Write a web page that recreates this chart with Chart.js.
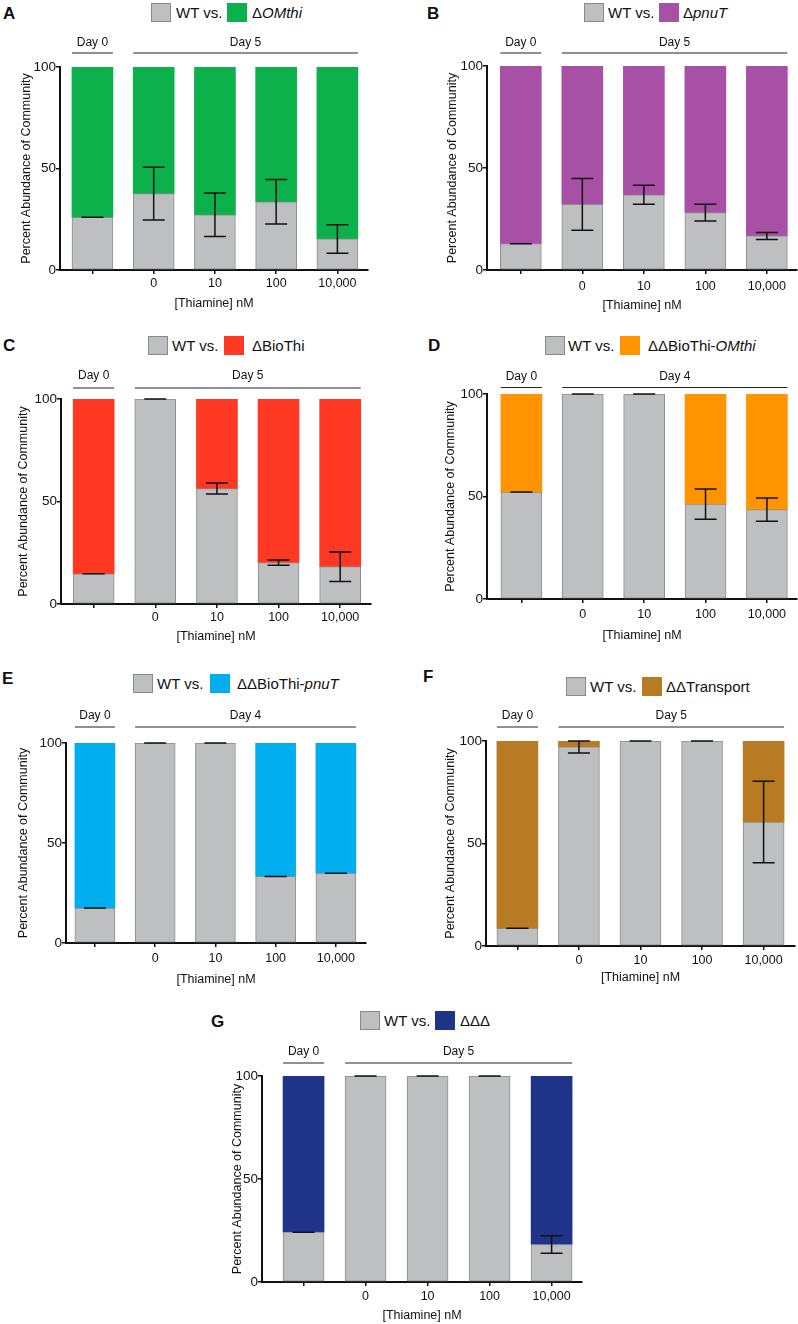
<!DOCTYPE html>
<html><head><meta charset="utf-8">
<script src="https://cdn.jsdelivr.net/npm/chart.js@4.4.1/dist/chart.umd.min.js"></script>
<style>
html,body{margin:0;padding:0;background:#fff;overflow:hidden;}
body{width:798px;height:1324px;position:relative;font-family:"Liberation Sans",Arial,Helvetica,sans-serif;color:#111;}
.letter{position:absolute;font-weight:bold;font-size:17px;line-height:17px;}
.box{position:absolute;width:18px;height:17px;border:1px solid #8a8a8a;}
.ltxt{position:absolute;font-size:15px;line-height:19px;white-space:nowrap;}
canvas{position:absolute;}
</style></head><body>

<div class="letter" style="left:3px;top:5px">A</div>
<div class="box" style="left:151px;top:3px;background:#BEBFC1"></div>
<div class="ltxt" style="left:176px;top:3px">WT vs.</div>
<div class="box" style="left:227px;top:3px;background:#0DB14B;border-color:#0DB14B"></div>
<div class="ltxt" style="left:252px;top:3px">Δ<i>OMthi</i></div>

<div class="letter" style="left:427px;top:5px">B</div>
<div class="box" style="left:584px;top:3px;background:#BEBFC1"></div>
<div class="ltxt" style="left:608px;top:3px">WT vs.</div>
<div class="box" style="left:659px;top:3px;background:#A850A5;border-color:#A850A5"></div>
<div class="ltxt" style="left:683px;top:3px">Δ<i>pnuT</i></div>

<div class="letter" style="left:3px;top:337px">C</div>
<div class="box" style="left:148px;top:336px;background:#BEBFC1"></div>
<div class="ltxt" style="left:172px;top:336px">WT vs.</div>
<div class="box" style="left:224px;top:336px;background:#FF3823;border-color:#FF3823"></div>
<div class="ltxt" style="left:252px;top:336px">ΔBioThi</div>

<div class="letter" style="left:428px;top:337px">D</div>
<div class="box" style="left:545px;top:336px;background:#BEBFC1"></div>
<div class="ltxt" style="left:568px;top:336px">WT vs.</div>
<div class="box" style="left:620px;top:336px;background:#FF9400;border-color:#FF9400"></div>
<div class="ltxt" style="left:648px;top:336px">ΔΔBioThi-<i>OMthi</i></div>

<div class="letter" style="left:2px;top:670px">E</div>
<div class="box" style="left:133px;top:674px;background:#BEBFC1"></div>
<div class="ltxt" style="left:157px;top:674px">WT vs.</div>
<div class="box" style="left:210px;top:674px;background:#00AEEF;border-color:#00AEEF"></div>
<div class="ltxt" style="left:237px;top:674px">ΔΔBioThi-<i>pnuT</i></div>

<div class="letter" style="left:423px;top:668px">F</div>
<div class="box" style="left:566px;top:677px;background:#BEBFC1"></div>
<div class="ltxt" style="left:590px;top:677px">WT vs.</div>
<div class="box" style="left:642px;top:677px;background:#B87A22;border-color:#B87A22"></div>
<div class="ltxt" style="left:666px;top:677px">ΔΔTransport</div>

<div class="letter" style="left:211px;top:1013px">G</div>
<div class="box" style="left:360px;top:1011px;background:#BEBFC1"></div>
<div class="ltxt" style="left:384px;top:1011px">WT vs.</div>
<div class="box" style="left:435px;top:1011px;background:#1F3489;border-color:#1F3489"></div>
<div class="ltxt" style="left:460px;top:1011px">ΔΔΔ</div>

<script>
// ---------- data ----------
const categories = ['', '0', '10', '100', '10,000'];
const yTicks = [0, 50, 100];
const dayGroups = [[0, 0], [1, 4]];

const wtA  = [26.0, 37.6, 27.2, 33.6, 15.3];
const mutA = [74.0, 62.4, 72.8, 66.4, 84.7];
const errA = [0, 13.0, 10.7, 11.0, 7.0];
const daysA = ['Day 0', 'Day 5'];

const wtB  = [12.9, 32.2, 36.9, 28.1, 16.7];
const mutB = [87.1, 67.8, 63.1, 71.9, 83.3];
const errB = [0, 12.7, 4.7, 4.1, 1.7];
const daysB = ['Day 0', 'Day 5'];

const wtC  = [14.7, 100, 56.3, 20.2, 18.2];
const mutC = [85.3, 0, 43.7, 79.8, 81.8];
const errC = [0, 0, 2.7, 1.3, 7.2];
const daysC = ['Day 0', 'Day 5'];

const wtD  = [52.2, 100, 100, 46.3, 43.6];
const mutD = [47.8, 0, 0, 53.7, 56.4];
const errD = [0, 0, 0, 7.4, 5.7];
const daysD = ['Day 0', 'Day 4'];

const wtE  = [17.5, 100, 100, 33.3, 34.9];
const mutE = [82.5, 0, 0, 66.7, 65.1];
const errE = [0, 0, 0, 0, 0];
const daysE = ['Day 0', 'Day 4'];

const wtF  = [8.6, 97.1, 100, 100, 60.5];
const mutF = [91.4, 2.9, 0, 0, 39.5];
const errF = [0, 2.9, 0, 0, 19.9];
const daysF = ['Day 0', 'Day 5'];

const wtG  = [24.2, 100, 100, 100, 18.2];
const mutG = [75.8, 0, 0, 0, 81.8];
const errG = [0, 0, 0, 0, 4.3];
const daysG = ['Day 0', 'Day 5'];

// ---------- styling / layout ----------
const FF = '"Liberation Sans", Arial, Helvetica, sans-serif';
const GRAY = '#BEBFC1';

const panels = [
  {wt: wtA, mut: mutA, err: errA, days: daysA, color: '#0DB14B', L: 60,  R: 368, T: 67,  B: 270, xMin: -0.53, xMax: 4.5,  barW: 41, lineOff: 14, textOff: 24, xtp: 2.5, xtb: 4,   ytp: 19},
  {wt: wtB, mut: mutB, err: errB, days: daysB, color: '#A850A5', L: 487, R: 797, T: 66,  B: 270, xMin: -0.55, xMax: 4.49, barW: 41, lineOff: 13, textOff: 23, xtp: 5,   xtb: 1.5, ytp: 18.5},
  {wt: wtC, mut: mutC, err: errC, days: daysC, color: '#FF3823', L: 61,  R: 371, T: 399, B: 604, xMin: -0.53, xMax: 4.5,  barW: 41, lineOff: 11, textOff: 23, xtp: 2,   xtb: 4.5, ytp: 15.5},
  {wt: wtD, mut: mutD, err: errD, days: daysD, color: '#FF9400', L: 487, R: 797, T: 394, B: 599, xMin: -0.56, xMax: 4.49, barW: 41, lineOff: 6.5, textOff: 17.5, xtp: 4, xtb: 0.5, ytp: 16.5},
  {wt: wtE, mut: mutE, err: errE, days: daysE, color: '#00AEEF', L: 66,  R: 366, T: 743, B: 943, xMin: -0.48, xMax: 4.5,  barW: 40, lineOff: 16, textOff: 27, xtp: 3.7, xtb: 0.5, ytp: 10},
  {wt: wtF, mut: mutF, err: errF, days: daysF, color: '#B87A22', L: 486, R: 795, T: 741, B: 946, xMin: -0.51, xMax: 4.51, barW: 41, lineOff: 14, textOff: 25, xtp: 3,   xtb: 5.5, ytp: 17.5},
  {wt: wtG, mut: mutG, err: errG, days: daysG, color: '#1F3489', L: 262, R: 582, T: 1076, B: 1282, xMin: -0.67, xMax: 4.49, barW: 41, lineOff: 13, textOff: 24, xtp: 3, xtb: 3.5, ytp: 28}
];

const annotPlugin = {
  id: 'annot',
  afterDatasetsDraw(chart, args, o) {
    const ctx = chart.ctx, x = chart.scales.x, y = chart.scales.y;
    ctx.save();
    ctx.strokeStyle = '#111';
    ctx.lineWidth = 1.5;
    o.wt.forEach((m, i) => {
      const e = o.err[i];
      const cx = x.getPixelForValue(i);
      const yt = y.getPixelForValue(m + e), yb = y.getPixelForValue(m - e);
      ctx.beginPath();
      ctx.moveTo(cx, yt); ctx.lineTo(cx, yb);
      ctx.moveTo(cx - 11, yt); ctx.lineTo(cx + 11, yt);
      ctx.moveTo(cx - 11, yb); ctx.lineTo(cx + 11, yb);
      ctx.stroke();
    });
    const hw = o.barW / 2;
    const ly = chart.chartArea.top - o.lineOff;
    const ty = chart.chartArea.top - o.textOff;
    ctx.lineWidth = 1.2;
    ctx.strokeStyle = '#222';
    ctx.fillStyle = '#111';
    ctx.font = '12px ' + FF;
    ctx.textAlign = 'center';
    ctx.textBaseline = 'middle';
    dayGroups.forEach((g, k) => {
      const x0 = x.getPixelForValue(g[0]) - hw, x1 = x.getPixelForValue(g[1]) + hw;
      ctx.beginPath(); ctx.moveTo(x0, ly); ctx.lineTo(x1, ly); ctx.stroke();
      ctx.fillText(o.days[k], (x0 + x1) / 2, ty);
    });
    ctx.restore();
  }
};

panels.forEach(p => {
  const TOPPAD = 40, YW = 60, XH = 45;
  const rp = Math.max(1, Math.min(10, 798 - p.R));
  const cv = document.createElement('canvas');
  const w = (p.R - p.L) + YW + rp;
  const h = TOPPAD + (p.B - p.T) + XH;
  cv.width = w; cv.height = h;
  cv.style.width = w + 'px'; cv.style.height = h + 'px';
  cv.style.left = (p.L - YW) + 'px';
  cv.style.top = (p.T - TOPPAD) + 'px';
  document.body.appendChild(cv);
  new Chart(cv, {
    type: 'bar',
    data: {
      datasets: [
        {label: 'WT', data: p.wt.map((v, i) => ({x: i, y: v})), backgroundColor: GRAY,
         borderColor: '#8d8d8d', borderWidth: 1, borderSkipped: false, barThickness: p.barW},
        {label: 'mutant', data: p.mut.map((v, i) => ({x: i, y: v})), backgroundColor: p.color,
         borderWidth: 0, barThickness: p.barW}
      ]
    },
    options: {
      responsive: false, animation: false, devicePixelRatio: 1,
      layout: {padding: {top: TOPPAD, right: rp, left: 0, bottom: 0}},
      plugins: {
        legend: {display: false}, tooltip: {enabled: false},
        annot: {wt: p.wt, err: p.err, days: p.days, barW: p.barW, lineOff: p.lineOff, textOff: p.textOff}
      },
      scales: {
        x: {
          type: 'linear', stacked: true, min: p.xMin, max: p.xMax, offset: false,
          afterBuildTicks: s => { s.ticks = categories.map((c, i) => ({value: i})); },
          afterFit: s => { s.height = XH; },
          grid: {display: true, offset: false, drawOnChartArea: false, drawTicks: true, tickLength: 4, color: '#111', lineWidth: 1.5},
          border: {display: true, color: '#111', width: 2},
          ticks: {callback: v => (categories[v] !== undefined ? categories[v] : ''), font: {size: 12.5, family: FF},
                  color: '#111', padding: p.xtp, maxRotation: 0, autoSkip: false},
          title: {display: true, text: '[Thiamine] nM', font: {size: 12.5, family: FF}, color: '#111',
                  padding: {top: 0, bottom: p.xtb}}
        },
        y: {
          stacked: true, min: 0, max: 100,
          afterBuildTicks: s => { s.ticks = yTicks.map(v => ({value: v})); },
          afterFit: s => { s.width = YW; },
          grid: {display: true, drawOnChartArea: false, tickLength: 4, color: '#111', lineWidth: 1.5},
          border: {display: true, color: '#111', width: 2},
          ticks: {font: {size: 13.5, family: FF}, color: '#111', padding: 0},
          title: {display: true, text: 'Percent Abundance of Community', font: {size: 12.5, family: FF}, color: '#111',
                  padding: {top: p.ytp, bottom: 0}}
        }
      }
    },
    plugins: [annotPlugin]
  });
});
</script>
</body></html>
